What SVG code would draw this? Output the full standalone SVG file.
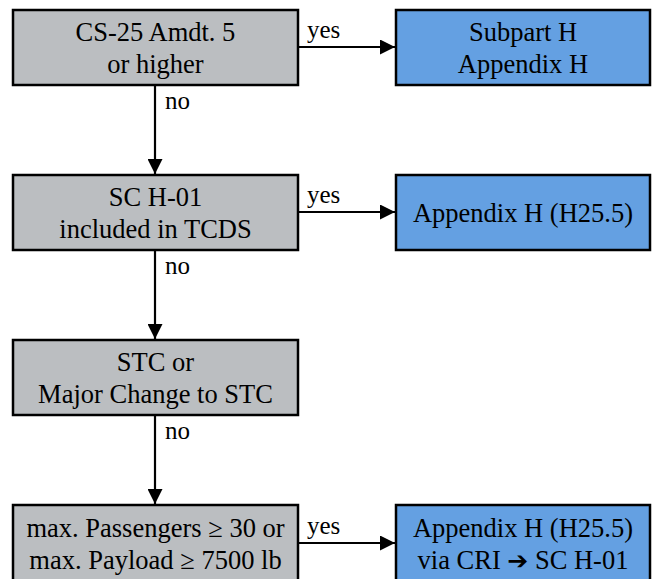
<svg xmlns="http://www.w3.org/2000/svg" width="652" height="579" viewBox="0 0 652 579">
<style>
.g{fill:#bbbec1;stroke:#000;stroke-width:2.5}
.b{fill:#64a0e2;stroke:#000;stroke-width:2.5}
text{fill:#000}
.c{text-anchor:middle}
.e{fill:none;stroke:#000;stroke-width:2.2}
</style>
<defs>
<marker id="ah" viewBox="0 0 10 10" refX="10" refY="5" markerWidth="15" markerHeight="15" markerUnits="userSpaceOnUse" orient="auto">
<path d="M0,0 L10,5 L0,10 z" fill="#000"/>
</marker>
</defs>
<g id="connectors" font-family="Liberation Serif, DejaVu Serif, serif" font-size="25">
<line class="e" x1="298" y1="47" x2="395" y2="47" marker-end="url(#ah)"/>
<line class="e" x1="155" y1="86" x2="155" y2="174" marker-end="url(#ah)"/>
<line class="e" x1="298" y1="212" x2="395" y2="212" marker-end="url(#ah)"/>
<line class="e" x1="155" y1="251" x2="155" y2="339" marker-end="url(#ah)"/>
<line class="e" x1="155" y1="416" x2="155" y2="504" marker-end="url(#ah)"/>
<line class="e" x1="298" y1="543" x2="395" y2="543" marker-end="url(#ah)"/>
<text x="307" y="38">yes</text>
<text x="165" y="109">no</text>
<text x="307" y="203">yes</text>
<text x="165" y="274">no</text>
<text x="165" y="439">no</text>
<text x="307" y="534">yes</text>
</g>
<g font-family="Liberation Serif, DejaVu Serif, serif" font-size="26.5">
<g id="n1"><rect class="g" x="13" y="10" width="285" height="75"/>
<text class="c" x="155.5" y="41">CS-25 Amdt. 5</text><text class="c" x="155.5" y="73">or higher</text></g>
<g id="n2"><rect class="b" x="396" y="10" width="254" height="75"/>
<text class="c" x="523" y="41">Subpart H</text><text class="c" x="523" y="73">Appendix H</text></g>
<g id="n3"><rect class="g" x="13" y="175" width="285" height="75"/>
<text class="c" x="155.5" y="206">SC H-01</text><text class="c" x="155.5" y="238">included in TCDS</text></g>
<g id="n4"><rect class="b" x="396" y="175" width="254" height="75"/>
<text class="c" x="523" y="222">Appendix H (H25.5)</text></g>
<g id="n5"><rect class="g" x="13" y="340" width="285" height="75"/>
<text class="c" x="155.5" y="371">STC or</text><text class="c" x="155.5" y="403">Major Change to STC</text></g>
<g id="n6"><rect class="g" x="13" y="505" width="285" height="76"/>
<text class="c" x="155.5" y="537">max. Passengers ≥ 30 or</text><text class="c" x="155.5" y="569">max. Payload ≥ 7500 lb</text></g>
<g id="n7"><rect class="b" x="396" y="505" width="254" height="76"/>
<text class="c" x="523" y="537">Appendix H (H25.5)</text><text class="c" x="523" y="569">via CRI <tspan font-family="DejaVu Sans, sans-serif" font-size="25">➔</tspan> SC H-01</text></g>
</g>
</svg>
